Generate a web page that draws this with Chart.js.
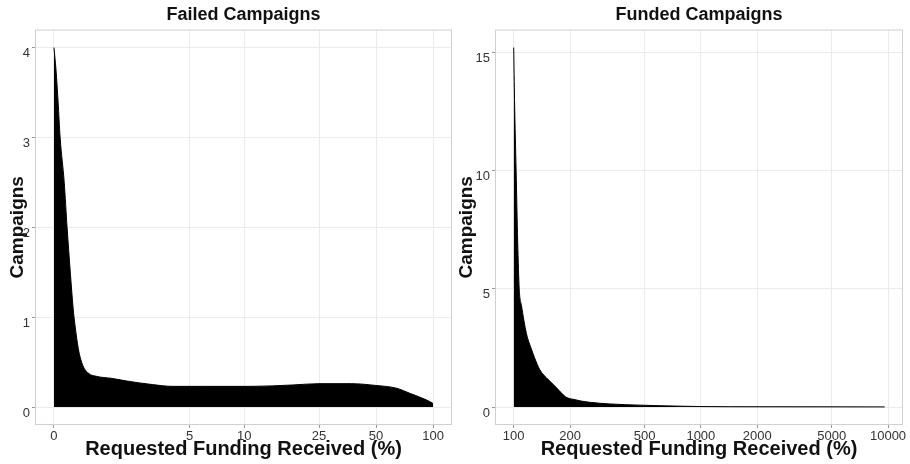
<!DOCTYPE html>
<html>
<head>
<meta charset="utf-8">
<script src="https://cdn.jsdelivr.net/npm/chart.js@4"></script>
<style>
  body { margin: 0; background: #fff; }
  #wrap { position: relative; width: 910px; height: 464px; }
  canvas { position: absolute; top: 0; }
</style>
</head>
<body>
<div id="wrap">
  <canvas id="failed" width="455" height="464" style="left:0"></canvas>
  <canvas id="funded" width="455" height="464" style="left:455px"></canvas>
</div>
<script>
// Failed campaigns: % of requested funding received vs density
var failedPct = [0, 0.05, 0.1, 0.15, 0.25, 0.32, 0.4, 0.47, 0.52, 0.6, 0.7, 0.85, 1.1, 1.5, 2, 3, 4, 6, 11, 18, 25, 37, 50, 64, 76, 92, 100];
var failedDensity = [4.0, 3.75, 3.4, 3.0, 2.5, 2.0, 1.5, 1.1, 0.9, 0.65, 0.48, 0.38, 0.34, 0.32, 0.29, 0.25, 0.23, 0.23, 0.23, 0.245, 0.26, 0.26, 0.24, 0.21, 0.15, 0.08, 0.04];
var failedXTicks = [0, 5, 10, 25, 50, 100];
var failedYTicks = [0, 1, 2, 3, 4];

// Funded campaigns
var fundedPct = [100, 101, 103, 105, 107, 110, 117, 125, 129, 138, 154, 170, 190, 200, 207, 230, 255, 326, 471, 641, 986, 2065, 9600];
var fundedDensity = [15.2, 13, 10, 7, 5, 4.3, 3.1, 2.4, 2.1, 1.57, 1.14, 0.8, 0.42, 0.35, 0.33, 0.25, 0.2, 0.13, 0.08, 0.05, 0.02, 0.01, 0.005];
var fundedXTicks = [100, 200, 500, 1000, 2000, 5000, 10000];
var fundedYTicks = [0, 5, 10, 15];

var FONT = "'Liberation Sans', Arial, sans-serif";
var GRID = '#ebebeb';

// pseudo-log transform used on the failed panel x axis
function pseudoLog(v) { return Math.asinh(v / 2); }

// light frame around the plot panel
var frame = {
    id: 'frame',
    beforeDatasetsDraw: function (chart) {
        var a = chart.chartArea, c = chart.ctx;
        c.save();
        c.strokeStyle = '#d8cccc';
        c.lineWidth = 1;
        c.strokeRect(a.left + 0.5, a.top + 0.5, a.right - a.left - 1, a.bottom - a.top - 1);
        c.restore();
    }
};

function yAxis(min, max, ticks, width, titlePad) {
    return {
        type: 'linear', min: min, max: max,
        afterFit: function (s) { s.width = width; },
        afterBuildTicks: function (s) { s.ticks = ticks.map(function (v) { return { value: v }; }); },
        grid: { color: GRID, tickColor: '#999', tickLength: 3 },
        border: { display: false },
        ticks: { color: '#333', padding: 2, labelOffset: 6, font: { family: FONT, size: 13 } },
        title: { display: true, text: 'Campaigns', color: '#111', padding: { top: titlePad, bottom: 0 },
                 font: { family: FONT, size: 19, weight: 'bold' } }
    };
}

var xTitle = { display: true, text: 'Requested Funding Received (%)', color: '#111',
               padding: { top: 0, bottom: 3 }, font: { family: FONT, size: 20, weight: 'bold' } };

function titleOpts(text) {
    return { display: true, text: text, color: '#111', fullSize: false,
             padding: { top: 4, bottom: 4 }, font: { family: FONT, size: 18, weight: 'bold', lineHeight: 1.2 } };
}

var failedData = failedPct.map(function (p, i) { return { x: pseudoLog(p), y: failedDensity[i] }; });
var lo = pseudoLog(0), hi = pseudoLog(100), pad = (hi - lo) * 0.05;

new Chart(document.getElementById('failed').getContext('2d'), {
    type: 'line',
    data: {
        datasets: [{
            data: failedData,
            borderColor: '#000',
            backgroundColor: '#000',
            borderWidth: 1,
            pointRadius: 0,
            fill: 'origin',
            cubicInterpolationMode: 'monotone'
        }]
    },
    options: {
        responsive: false,
        animation: false,
        layout: { padding: { right: 3 } },
        plugins: { legend: { display: false }, tooltip: { enabled: false }, title: titleOpts('Failed Campaigns') },
        scales: {
            x: {
                type: 'linear', min: lo - pad, max: hi + pad,
                afterFit: function (s) { s.height = 39; },
                afterBuildTicks: function (s) { s.ticks = failedXTicks.map(function (v) { return { value: pseudoLog(v) }; }); },
                grid: { color: GRID, tickColor: '#999', tickLength: 3 },
                border: { display: false },
                ticks: {
                    color: '#333', padding: 1, maxRotation: 0, autoSkip: false,
                    font: { family: FONT, size: 13 },
                    callback: function (v, i) { return failedXTicks[i]; }
                },
                title: xTitle
            },
            y: yAxis(-0.2, 4.2, failedYTicks, 35, 6)
        }
    },
    plugins: [frame]
});

var fundedData = fundedPct.map(function (p, i) { return { x: p, y: fundedDensity[i] }; });

new Chart(document.getElementById('funded').getContext('2d'), {
    type: 'line',
    data: {
        datasets: [{
            data: fundedData,
            borderColor: '#000',
            backgroundColor: '#000',
            borderWidth: 1,
            pointRadius: 0,
            fill: 'origin',
            cubicInterpolationMode: 'monotone'
        }]
    },
    options: {
        responsive: false,
        animation: false,
        layout: { padding: { right: 7 } },
        plugins: { legend: { display: false }, tooltip: { enabled: false }, title: titleOpts('Funded Campaigns') },
        scales: {
            x: {
                type: 'logarithmic', min: Math.pow(10, 1.9), max: Math.pow(10, 4.08),
                afterFit: function (s) { s.height = 39; },
                afterBuildTicks: function (s) { s.ticks = fundedXTicks.map(function (v) { return { value: v }; }); },
                grid: { color: GRID, tickColor: '#999', tickLength: 3 },
                border: { display: false },
                ticks: {
                    color: '#333', padding: 1, maxRotation: 0, autoSkip: false,
                    font: { family: FONT, size: 13 },
                    callback: function (v, i) { return fundedXTicks[i]; }
                },
                title: xTitle
            },
            y: yAxis(-0.76, 15.96, fundedYTicks, 40, 0)
        }
    },
    plugins: [frame]
});
</script>
</body>
</html>
